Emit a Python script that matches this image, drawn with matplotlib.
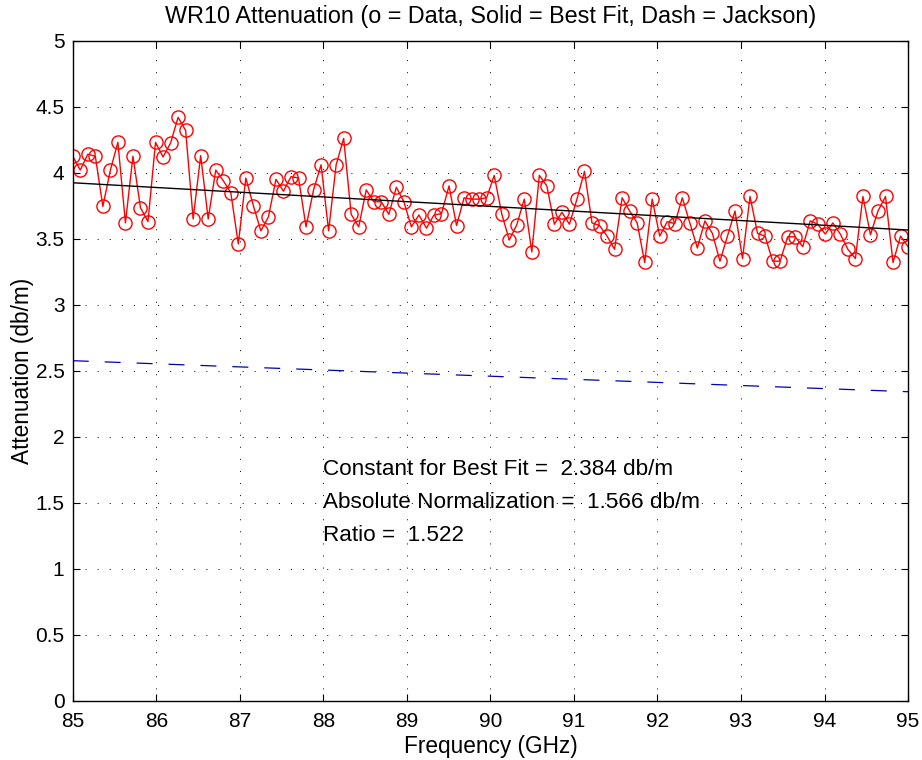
import numpy as np
import matplotlib
matplotlib.use('Agg')
import matplotlib.pyplot as plt

plt.rcParams['font.family'] = ['Liberation Sans', 'DejaVu Sans']
plt.rcParams['lines.scale_dashes'] = False

# measured attenuation (db/m), evenly spaced from 85 to 95 GHz
attenuation = [4.125, 4.02, 4.14, 4.125, 3.745, 4.02, 4.23, 3.62, 4.125, 3.735,
               3.63, 4.23, 4.12, 4.225, 4.42, 4.32, 3.65, 4.13, 3.65, 4.02,
               3.94, 3.85, 3.46, 3.96, 3.75, 3.56, 3.665, 3.95, 3.86, 3.97,
               3.96, 3.59, 3.87, 4.06, 3.56, 4.06, 4.26, 3.685, 3.59, 3.87,
               3.78, 3.78, 3.685, 3.89, 3.78, 3.59, 3.68, 3.58, 3.68, 3.69,
               3.90, 3.60, 3.81, 3.80, 3.80, 3.81, 3.98, 3.69, 3.49, 3.605,
               3.80, 3.40, 3.98, 3.90, 3.61, 3.70, 3.61, 3.80, 4.01, 3.62,
               3.60, 3.52, 3.42, 3.81, 3.71, 3.62, 3.32, 3.80, 3.52, 3.63,
               3.615, 3.81, 3.62, 3.43, 3.635, 3.54, 3.33, 3.52, 3.71, 3.35,
               3.82, 3.54, 3.52, 3.33, 3.33, 3.515, 3.515, 3.44, 3.635, 3.61,
               3.535, 3.62, 3.535, 3.42, 3.35, 3.82, 3.53, 3.71, 3.82, 3.32,
               3.52, 3.44]
freq = np.linspace(85, 95, len(attenuation))

# end points of the two straight lines
line_freq = [85, 95]
best_fit = [3.924, 3.566]
jackson = [2.576, 2.341]

notes = ['Constant for Best Fit =  2.384 db/m',
         'Absolute Normalization =  1.566 db/m',
         'Ratio =  1.522']
note_y = [1.75, 1.5, 1.25]

fig = plt.figure(figsize=(9.22, 7.6), dpi=100)
ax = fig.add_axes([0.0789, 0.078, 0.906, 0.8684])

ax.plot(freq, attenuation, color='red', linewidth=1, marker='o', markersize=9.5,
        markerfacecolor='none', markeredgecolor='red', markeredgewidth=1)
ax.plot(line_freq, best_fit, color='black', linewidth=1)
ax.plot(line_freq, jackson, color='#0000bb', linewidth=0.9, dashes=(11.5, 11.5))

for txt, y in zip(notes, note_y):
    ax.text(88.0, y, txt, fontsize=16.2, va='center', ha='left')

ax.set_xlim(85, 95)
ax.set_ylim(0, 5)
ax.set_xticks(range(85, 96))
ax.set_yticks(np.arange(0, 5.01, 0.5))
ax.set_yticklabels(['0', '0.5', '1', '1.5', '2', '2.5', '3', '3.5', '4', '4.5', '5'])
ax.grid(True, color='black', linestyle=(0, (0.7, 8)), linewidth=0.7)
ax.tick_params(direction='in', top=True, right=True, labelsize=15, length=5)
ax.tick_params(axis='x', pad=8)
ax.tick_params(axis='y', pad=6)
for s in ax.spines.values():
    s.set_linewidth(1)

ax.set_xlabel('Frequency (GHz)', fontsize=16.3, labelpad=3)
ax.set_ylabel('Attenuation (db/m)', fontsize=16.3, labelpad=1)
ax.set_title('WR10 Attenuation (o = Data, Solid = Best Fit, Dash = Jackson)',
             fontsize=16.8, pad=13)

fig.savefig('out.png', dpi=100)
